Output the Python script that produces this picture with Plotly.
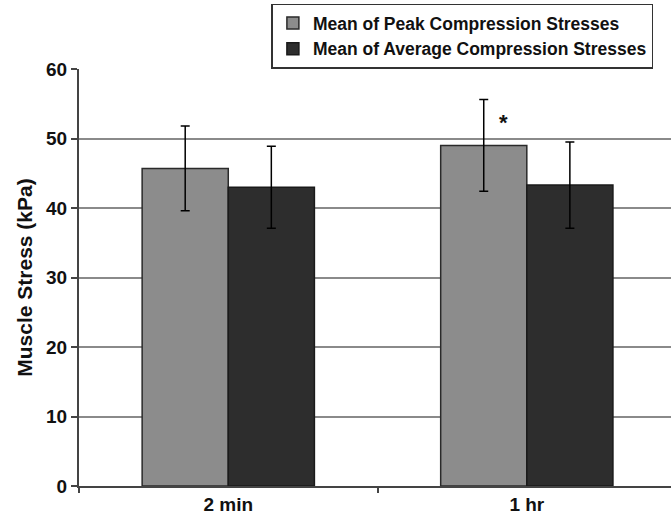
import plotly.graph_objects as go

categories = ["2 min", "1 hr"]
peak_mean = [45.7, 49.0]
peak_err = [6.1, 6.6]
avg_mean = [43.0, 43.3]
avg_err = [5.9, 6.2]
series_names = ["Mean of Peak Compression Stresses", "Mean of Average Compression Stresses"]
y_ticks = [0, 10, 20, 30, 40, 50, 60]
star_label = "*"
star_value = 52.3

FONT = "Liberation Sans, Arial, sans-serif"

fig = go.Figure()
fig.add_trace(go.Bar(
    x=categories, y=peak_mean, name=series_names[0],
    marker=dict(color="#8c8c8c", line=dict(color="#2a2a2a", width=1.5)),
    error_y=dict(type="data", array=peak_err, visible=True, color="#000000", thickness=1.5, width=4.5),
))
fig.add_trace(go.Bar(
    x=categories, y=avg_mean, name=series_names[1],
    marker=dict(color="#2d2d2d", line=dict(color="#1a1a1a", width=1.5)),
    error_y=dict(type="data", array=avg_err, visible=True, color="#000000", thickness=1.5, width=4.5),
))

fig.add_annotation(x=categories[1], y=star_value, text=star_label, showarrow=False,
                   xshift=-23, font=dict(family=FONT, size=22, color="#111111", weight="bold"))

fig.update_layout(
    width=671, height=519,
    margin=dict(l=79, r=0, t=69, b=33, autoexpand=False),
    paper_bgcolor="white", plot_bgcolor="white",
    barmode="group", bargap=0.423, bargroupgap=0,
    font=dict(family=FONT, size=19, color="#111111"),
    legend=dict(
        x=0.325, y=1.157, xanchor="left", yanchor="top",
        bordercolor="#333333", borderwidth=1.5, bgcolor="white",
        font=dict(family=FONT, size=17.5, color="#111111", weight="bold"),
        tracegroupgap=0, itemwidth=30,
    ),
    xaxis=dict(
        type="category", range=[-0.5, 1.483], tickson="boundaries",
        ticks="outside", ticklen=5, tickwidth=1.5, tickcolor="#444444",
        showline=True, linecolor="#444444", linewidth=2,
        showgrid=False, zeroline=False,
        tickfont=dict(family=FONT, size=19, color="#111111", weight="bold"),
    ),
    yaxis=dict(
        range=[0, 60], tickvals=y_ticks,
        ticks="outside", ticklen=6, tickwidth=1.5, tickcolor="#444444",
        showline=True, linecolor="#444444", linewidth=2,
        showgrid=True, gridcolor="#8a8a8a", gridwidth=2, zeroline=False,
        tickfont=dict(family=FONT, size=19, color="#111111", weight="bold"),
        title=dict(text="Muscle Stress (kPa)", standoff=8,
                   font=dict(family=FONT, size=21, color="#111111", weight="bold")),
    ),
)

fig.write_html("out.html")
